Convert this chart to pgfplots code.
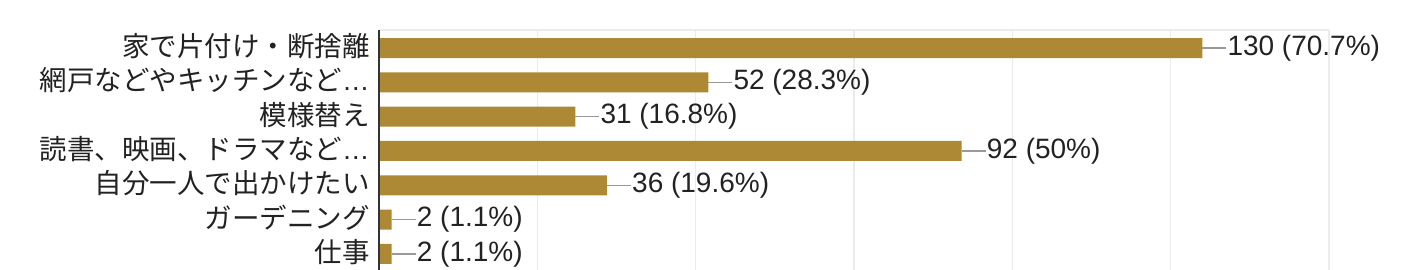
\documentclass[border=0pt]{standalone}
\usepackage{fontspec}
\setmainfont{Liberation Sans}
\newfontfamily\cjk{Noto Sans CJK JP}
\usepackage{pgfplots}
\pgfplotsset{compat=1.18}
\definecolor{barc}{HTML}{AE8935}
\definecolor{gridc}{HTML}{EBEBEB}
\definecolor{axc}{HTML}{333333}
\definecolor{txt}{HTML}{222222}
\definecolor{conn}{HTML}{999999}
\begin{document}
\begin{tikzpicture}
\begin{axis}[
  scale only axis,
  width=950pt, height=240pt,
  xmin=0, xmax=150, ymin=-0.5, ymax=6.5,
  xtick={0,25,...,150}, xticklabels={},
  xmajorgrids, major grid style={gridc, line width=1.3pt},
  ytick={0,...,6},
  yticklabels={{仕事},{ガーデニング},{自分一人で出かけたい},{読書、映画、ドラマなど{\fontspec{Liberation Sans}…}},{模様替え},{網戸などやキッチンなど{\fontspec{Liberation Sans}…}},{家で片付け・断捨離}},
  yticklabel style={font=\cjk\fontsize{27.5}{30}\selectfont, text=txt, anchor=east, inner sep=0pt, xshift=-5pt, yshift=1pt},
  tick style={draw=none},
  axis line style={draw=none},
  xbar, bar width=20pt,
  clip=false,
]
\addplot[fill=barc, draw=none, bar shift=-1pt,
  point meta=explicit symbolic,
  nodes near coords={\pgfplotspointmeta},
  nodes near coords style={font=\fontsize{28}{30}\selectfont, text=txt, anchor=west, inner sep=0pt, xshift=25pt},
  error bars/.cd, x dir=plus, x explicit, error mark=none,
  error bar style={conn, line width=1.5pt},
] coordinates {
  (130,6) +- (3.8,0) [130 (70.7\%)]
  (52,5) +- (3.8,0) [52 (28.3\%)]
  (31,4) +- (3.8,0) [31 (16.8\%)]
  (92,3) +- (3.8,0) [92 (50\%)]
  (36,2) +- (3.8,0) [36 (19.6\%)]
  (2,1) +- (3.8,0) [2 (1.1\%)]
  (2,0) +- (3.8,0) [2 (1.1\%)]
};
\draw[gridc, line width=1.3pt] (axis cs:0,6.5) -- (axis cs:150,6.5);
\draw[axc, line width=2pt] (axis cs:0,6.5) -- (axis cs:0,-0.5);
\coordinate (SW) at (rel axis cs:0,0);
\coordinate (NE) at (rel axis cs:1,1);
\end{axis}
\pgfresetboundingbox
\path[use as bounding box] (SW) ++(-379pt,0) rectangle ([shift={(95pt,30pt)}]NE);
\end{tikzpicture}
\end{document}
